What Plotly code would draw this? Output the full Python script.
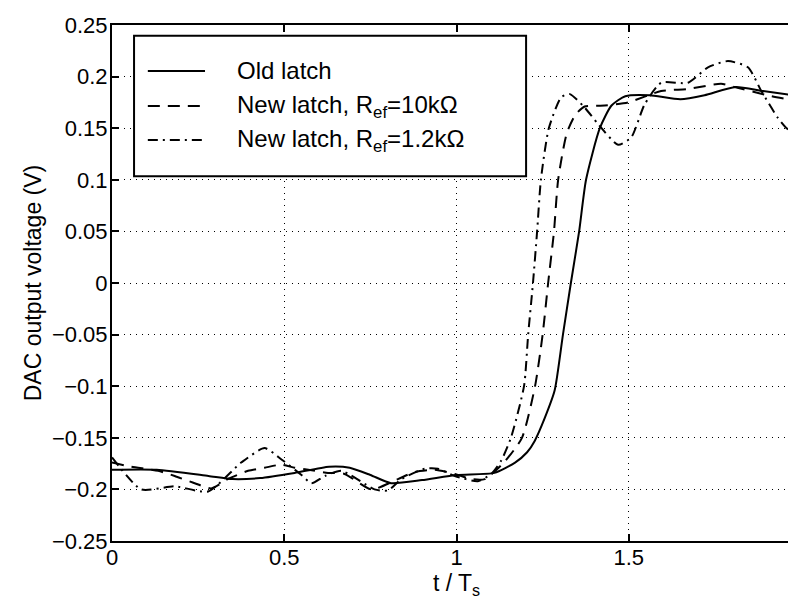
import plotly.graph_objects as go

# ---- data ----
old_t = [0.0, 0.13, 0.28, 0.35, 0.43, 0.53, 0.63, 0.69, 0.75, 0.81, 0.90, 1.00, 1.11, 1.17,
         1.205, 1.227, 1.256, 1.285, 1.309, 1.332, 1.356, 1.376, 1.416, 1.45, 1.49, 1.56, 1.65,
         1.72, 1.81, 1.89, 2.0]
old_v = [-0.181, -0.181, -0.187, -0.190, -0.189, -0.184, -0.178, -0.179, -0.186, -0.194, -0.191,
         -0.186, -0.184, -0.174, -0.164, -0.153, -0.131, -0.104, -0.050, 0.000, 0.050, 0.100,
         0.150, 0.172, 0.181, 0.182, 0.178, 0.182, 0.190, 0.186, 0.181]

r10_t = [0.0, 0.056, 0.134, 0.182, 0.24, 0.288, 0.336, 0.395, 0.443, 0.492, 0.53, 0.57, 0.627,
         0.675, 0.753, 0.83, 0.88, 0.937, 0.995, 1.043, 1.082, 1.14, 1.19, 1.228, 1.25, 1.266,
         1.283, 1.295, 1.32, 1.345, 1.372, 1.43, 1.498, 1.594, 1.672, 1.768, 1.807, 1.914, 2.0]
r10_v = [-0.174, -0.178, -0.182, -0.187, -0.194, -0.199, -0.190, -0.182, -0.179, -0.176, -0.179,
         -0.181, -0.184, -0.185, -0.200, -0.190, -0.183, -0.181, -0.185, -0.190, -0.190, -0.173,
         -0.150, -0.100, -0.050, 0.000, 0.050, 0.100, 0.145, 0.163, 0.171, 0.172, 0.175, 0.186,
         0.188, 0.193, 0.190, 0.181, 0.176]

r12_t = [0.0, 0.085, 0.182, 0.279, 0.375, 0.443, 0.492, 0.55, 0.579, 0.618, 0.666, 0.762, 0.801,
         0.84, 0.908, 0.946, 0.995, 1.062, 1.101, 1.13, 1.158, 1.196, 1.208, 1.222, 1.234, 1.245,
         1.268, 1.304, 1.329, 1.372, 1.411, 1.469, 1.507, 1.546, 1.594, 1.672, 1.73, 1.788, 1.846,
         1.885, 1.933, 1.962, 2.0]
r12_v = [-0.169, -0.200, -0.197, -0.202, -0.174, -0.160, -0.171, -0.186, -0.194, -0.187, -0.182,
         -0.200, -0.201, -0.190, -0.180, -0.180, -0.187, -0.192, -0.185, -0.172, -0.150, -0.100,
         -0.050, 0.000, 0.050, 0.100, 0.150, 0.180, 0.183, 0.170, 0.154, 0.134, 0.141, 0.173,
         0.194, 0.194, 0.209, 0.215, 0.209, 0.186, 0.160, 0.149, 0.147]

x_ticks = [0, 0.5, 1, 1.5, 2]
x_tick_text = ["0", "0.5", "1", "1.5", "2"]
y_ticks = [-0.25, -0.2, -0.15, -0.1, -0.05, 0, 0.05, 0.1, 0.15, 0.2, 0.25]
y_tick_text = ["\u22120.25", "\u22120.2", "\u22120.15", "\u22120.1", "\u22120.05", "0",
               "0.05", "0.1", "0.15", "0.2", "0.25"]

legend_names = ["Old latch", "New latch, R<sub>ef</sub>=10k\u03a9", "New latch, R<sub>ef</sub>=1.2k\u03a9"]

FONT = "Liberation Sans, Arial, Helvetica, sans-serif"
DASHES = ["solid", "12px,8px", "10px,5px,2px,5px"]

fig = go.Figure()
for t, v, name, dash in [(old_t, old_v, legend_names[0], DASHES[0]),
                         (r10_t, r10_v, legend_names[1], DASHES[1]),
                         (r12_t, r12_v, legend_names[2], DASHES[2])]:
    fig.add_trace(go.Scatter(x=t, y=v, mode="lines", name=name, showlegend=False,
                             line=dict(color="black", width=2, dash=dash, shape="spline", smoothing=0.6)))

# manual legend (MATLAB style box)
shapes = [dict(type="rect", xref="paper", yref="paper", x0=0.032, x1=0.601, y0=0.707, y1=0.979,
               line=dict(color="black", width=2), fillcolor="white", layer="above")]
annotations = []
rows = [0.911, 0.843, 0.777]
for i, yy in enumerate(rows):
    shapes.append(dict(type="line", xref="paper", yref="paper", x0=0.052, x1=0.135, y0=yy, y1=yy,
                       line=dict(color="black", width=2, dash=DASHES[i]), layer="above"))
    annotations.append(dict(xref="paper", yref="paper", x=0.178, y=yy, text=legend_names[i],
                            showarrow=False, xanchor="left", yanchor="middle",
                            font=dict(family=FONT, size=24, color="black")))

axis_common = dict(showline=True, linecolor="black", linewidth=2, mirror="allticks",
                   ticks="inside", ticklen=7, tickwidth=1.5, tickcolor="black",
                   showgrid=True, gridcolor="black", gridwidth=1, griddash="1px,5px",
                   zeroline=False, automargin=False, ticklabeloverflow="allow",
                   tickfont=dict(family=FONT, size=22, color="black"))

fig.update_layout(
    width=796, height=601,
    margin=dict(l=104, r=3, t=17, b=68),
    paper_bgcolor="white", plot_bgcolor="white",
    shapes=shapes, annotations=annotations,
    xaxis=dict(range=[0, 2], tickvals=x_ticks, ticktext=x_tick_text, ticklabelstandoff=-4,
               title=dict(text="t / T<sub>s</sub>", font=dict(family=FONT, size=23, color="black"),
                          standoff=0),
               **axis_common),
    yaxis=dict(range=[-0.25, 0.25], tickvals=y_ticks, ticktext=y_tick_text, ticklabelstandoff=-2,
               title=dict(text="DAC output voltage (V)", font=dict(family=FONT, size=23, color="black"),
                          standoff=4),
               **axis_common),
)

fig.write_html("out.html")
